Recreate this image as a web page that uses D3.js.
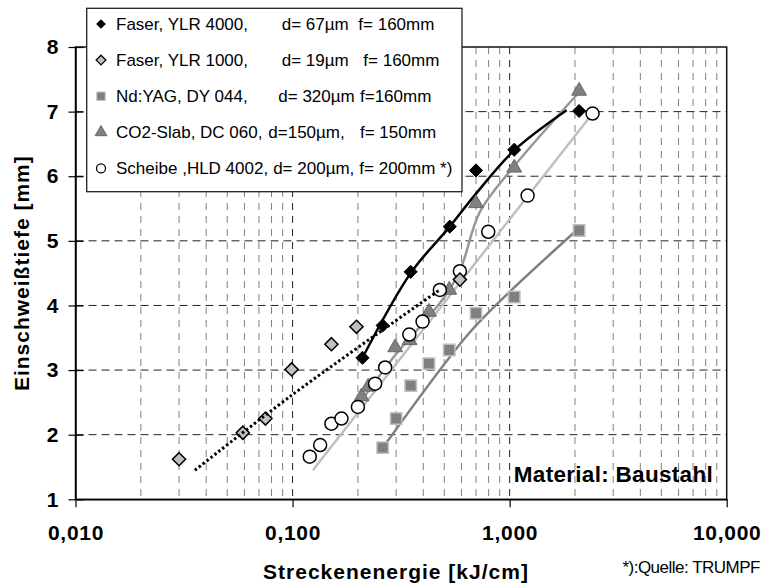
<!DOCTYPE html>
<html>
<head>
<meta charset="utf-8">
<script src="https://cdn.jsdelivr.net/npm/d3@7/dist/d3.min.js"></script>
<style>
body { margin: 0; background: #fff; }
svg { display: block; font-family: Arial, "Liberation Sans", sans-serif; }
</style>
</head>
<body>
<script>
// axis values
var yTicks = [1, 2, 3, 4, 5, 6, 7, 8];
var xTicks = [0.01, 0.1, 1, 10];
var xTickLabels = ["0,010", "0,100", "1,000", "10,000"];

// measured points [Streckenenergie, Einschweisstiefe]
var faser4000 = [[0.21, 3.19], [0.26, 3.69], [0.35, 4.52], [0.53, 5.22], [0.70, 6.09], [1.05, 6.41], [2.09, 7.01]];
var faser1000 = [[0.030, 1.62], [0.059, 2.03], [0.075, 2.25], [0.099, 3.01], [0.151, 3.40], [0.197, 3.67], [0.59, 4.40]];
var ndyag = [[0.26, 1.80], [0.30, 2.25], [0.35, 2.76], [0.425, 3.10], [0.527, 3.31], [0.70, 3.88], [1.05, 4.13], [2.09, 5.16]];
var co2 = [[0.208, 2.59], [0.223, 2.74], [0.297, 3.35], [0.346, 3.46], [0.425, 3.90], [0.527, 4.24], [0.70, 5.58], [1.05, 6.13], [2.09, 7.32]];
var scheibe = [[0.120, 1.66], [0.134, 1.84], [0.151, 2.17], [0.168, 2.25], [0.200, 2.43], [0.240, 2.79], [0.267, 3.04],
    [0.345, 3.55], [0.397, 3.75], [0.477, 4.24], [0.59, 4.53], [0.797, 5.14], [1.21, 5.70], [2.41, 6.97]];

// curves
var faser4000Line = [[0.21, 3.19], [0.35, 4.50], [0.53, 5.22], [0.70, 5.73], [1.05, 6.40], [1.83, 7.02]];
var faser1000Trend = [[0.0355, 1.45], [0.1, 2.62], [0.48, 4.25]];
var ndyagLine = [[0.27, 1.87], [0.65, 3.57], [1.0, 4.21], [2.0, 5.14]];
var co2Line = [[0.20, 2.45], [0.30, 3.25], [0.43, 3.85], [0.53, 4.25], [0.60, 4.60], [0.73, 5.45], [1.04, 6.14], [2.09, 7.30]];
var scheibeTrend = [[0.124, 1.45], [2.41, 6.97]];

var legendNames = ["Faser, YLR 4000,", "Faser, YLR 1000,", "Nd:YAG, DY 044,", "CO2-Slab, DC 060,", "Scheibe ,HLD 4002,"];
var legendD = ["d= 67µm", "d= 19µm", "d= 320µm", "d=150µm,", "d= 200µm,"];
var legendF = ["f= 160mm", "f= 160mm", "f=160mm", "f= 150mm", "f= 200mm *)"];

function init() {
    var w = 763;
    var h = 585;
    var pLeft = 75.5, pRight = 726.7, pTop = 47, pBottom = 499.3;

    var svg = d3.select("body")
        .append("svg")
        .attr("width", w)
        .attr("height", h);

    var xScale = d3.scaleLog()
        .domain([0.01, 10])
        .range([pLeft, pRight]);

    var yScale = d3.scaleLinear()
        .domain([1, 8])
        .range([pBottom, pTop]);

    // vertical grid, minor log steps grey, decades dark
    var minor = [];
    [0.01, 0.1, 1].forEach(function (dec) {
        for (var k = 2; k <= 9; k++) minor.push(dec * k);
    });

    svg.append("g")
        .selectAll("line")
        .data(minor)
        .enter()
        .append("line")
        .attr("x1", function (d) { return xScale(d); })
        .attr("x2", function (d) { return xScale(d); })
        .attr("y1", pTop)
        .attr("y2", pBottom)
        .attr("stroke", "#808080")
        .attr("stroke-width", 1)
        .attr("stroke-dasharray", "7,6");

    svg.append("g")
        .selectAll("line")
        .data([0.1, 1])
        .enter()
        .append("line")
        .attr("x1", function (d) { return xScale(d); })
        .attr("x2", function (d) { return xScale(d); })
        .attr("y1", pTop)
        .attr("y2", pBottom)
        .attr("stroke", "#222")
        .attr("stroke-width", 1)
        .attr("stroke-dasharray", "7,6");

    // horizontal grid
    svg.append("g")
        .selectAll("line")
        .data(yTicks.slice(1, -1))
        .enter()
        .append("line")
        .attr("x1", pLeft)
        .attr("x2", pRight)
        .attr("y1", function (d) { return yScale(d); })
        .attr("y2", function (d) { return yScale(d); })
        .attr("stroke", "#222")
        .attr("stroke-width", 1)
        .attr("stroke-dasharray", "8,5");

    // plot frame
    svg.append("rect")
        .attr("x", pLeft)
        .attr("y", pTop)
        .attr("width", pRight - pLeft)
        .attr("height", pBottom - pTop)
        .attr("fill", "none")
        .attr("stroke", "#111")
        .attr("stroke-width", 1.5);

    // axes
    var yAxis = svg.append("g")
        .attr("transform", "translate(" + pLeft + ",0)")
        .call(d3.axisLeft(yScale).tickValues(yTicks).tickFormat(d3.format("d")).tickSizeInner(7).tickSizeOuter(0).tickPadding(10));
    yAxis.select(".domain").attr("stroke-width", 1.5);
    yAxis.selectAll(".tick line").attr("x2", -7).attr("x1", 8).attr("stroke-width", 1.2);
    yAxis.selectAll(".tick text")
        .attr("font-size", "21px")
        .attr("font-weight", "bold")
        .attr("fill", "#000");

    var xAxis = svg.append("g")
        .attr("transform", "translate(0," + pBottom + ")")
        .call(d3.axisBottom(xScale).tickValues(xTicks).tickFormat(function (d, i) { return xTickLabels[i]; }).tickSizeInner(8).tickSizeOuter(0));
    xAxis.select(".domain").attr("stroke-width", 1.5);
    xAxis.selectAll(".tick line").attr("stroke-width", 1.2);
    xAxis.selectAll(".tick text")
        .attr("y", 540 - pBottom)
        .attr("dy", 0)
        .attr("font-size", "21px")
        .attr("font-weight", "bold")
        .attr("letter-spacing", "0.7px")
        .attr("fill", "#000");

    // axis titles
    svg.append("text")
        .attr("x", 396)
        .attr("y", 579)
        .attr("text-anchor", "middle")
        .attr("font-size", "21px")
        .attr("font-weight", "bold")
        .attr("letter-spacing", "1px")
        .text("Streckenenergie [kJ/cm]");

    svg.append("text")
        .attr("transform", "translate(29," + (pTop + pBottom) / 2 + ") rotate(-90)")
        .attr("text-anchor", "middle")
        .attr("font-size", "21px")
        .attr("font-weight", "bold")
        .attr("letter-spacing", "1px")
        .text("Einschweißtiefe [mm]");

    svg.append("text")
        .attr("x", 713)
        .attr("y", 482)
        .attr("text-anchor", "end")
        .attr("font-size", "22.5px")
        .attr("font-weight", "bold")
        .attr("letter-spacing", "0.3px")
        .text("Material: Baustahl");

    svg.append("text")
        .attr("x", 760)
        .attr("y", 573)
        .attr("text-anchor", "end")
        .attr("font-size", "17px")
        .attr("letter-spacing", "-0.5px")
        .text("*):Quelle: TRUMPF");

    // lines
    var line = d3.line()
        .x(function (d) { return xScale(d[0]); })
        .y(function (d) { return yScale(d[1]); });

    var smooth = d3.line()
        .curve(d3.curveCatmullRom.alpha(0.5))
        .x(function (d) { return xScale(d[0]); })
        .y(function (d) { return yScale(d[1]); });

    svg.append("path").attr("d", smooth(ndyagLine)).attr("fill", "none").attr("stroke", "#808080").attr("stroke-width", 2.5);
    svg.append("path").attr("d", line(scheibeTrend)).attr("fill", "none").attr("stroke", "#c0c0c0").attr("stroke-width", 2.5);
    svg.append("path").attr("d", smooth(co2Line)).attr("fill", "none").attr("stroke", "#969696").attr("stroke-width", 2.5);
    svg.append("path").attr("d", smooth(faser4000Line)).attr("fill", "none").attr("stroke", "#000").attr("stroke-width", 2.5);

    // markers
    var diamond = d3.symbol().type(d3.symbolDiamond2).size(110);
    var square = d3.symbol().type(d3.symbolSquare).size(130);
    var triangle = d3.symbol().type(d3.symbolTriangle).size(95);

    function pos(d) { return "translate(" + xScale(d[0]) + "," + yScale(d[1]) + ")"; }

    svg.append("g").selectAll("path").data(ndyag).enter().append("path")
        .attr("d", square).attr("transform", pos)
        .attr("fill", "#808080").attr("stroke", "#c0c0c0").attr("stroke-width", 1.5);

    svg.append("g").selectAll("path").data(co2).enter().append("path")
        .attr("d", triangle).attr("transform", pos)
        .attr("fill", "#808080").attr("stroke", "#666").attr("stroke-width", 1);

    svg.append("g").selectAll("circle").data(scheibe).enter().append("circle")
        .attr("cx", function (d) { return xScale(d[0]); })
        .attr("cy", function (d) { return yScale(d[1]); })
        .attr("r", 6.5)
        .attr("fill", "#fff").attr("stroke", "#000").attr("stroke-width", 1.5);

    svg.append("g").selectAll("path").data(faser1000).enter().append("path")
        .attr("d", diamond).attr("transform", pos)
        .attr("fill", "#c0c0c0").attr("stroke", "#000").attr("stroke-width", 1.5);

    svg.append("g").selectAll("path").data(faser4000).enter().append("path")
        .attr("d", diamond).attr("transform", pos)
        .attr("fill", "#000").attr("stroke", "#000").attr("stroke-width", 1);

    // dotted trend on top
    svg.append("path").attr("d", smooth(faser1000Trend)).attr("fill", "none")
        .attr("stroke", "#000").attr("stroke-width", 3).attr("stroke-dasharray", "2.5,2.5");

    // legend
    var lg = svg.append("g");
    lg.append("rect")
        .attr("x", 86.7)
        .attr("y", 8.3)
        .attr("width", 462 - 86.7)
        .attr("height", 191.7 - 8.3)
        .attr("fill", "#fff")
        .attr("stroke", "#222")
        .attr("stroke-width", 1.3);

    var rows = legendNames.map(function (n, i) { return 24 + i * 36.1; });
    var lx = 101;
    lg.append("path").attr("d", d3.symbol().type(d3.symbolDiamond2).size(60)()).attr("transform", "translate(" + lx + "," + rows[0] + ")").attr("fill", "#000");
    lg.append("path").attr("d", d3.symbol().type(d3.symbolDiamond2).size(60)()).attr("transform", "translate(" + lx + "," + rows[1] + ")").attr("fill", "#c0c0c0").attr("stroke", "#000").attr("stroke-width", 1.3);
    lg.append("path").attr("d", d3.symbol().type(d3.symbolSquare).size(70)()).attr("transform", "translate(" + lx + "," + rows[2] + ")").attr("fill", "#808080").attr("stroke", "#c0c0c0");
    lg.append("path").attr("d", d3.symbol().type(d3.symbolTriangle).size(60)()).attr("transform", "translate(" + lx + "," + rows[3] + ")").attr("fill", "#808080").attr("stroke", "#666");
    lg.append("circle").attr("cx", lx).attr("cy", rows[4]).attr("r", 4.5).attr("fill", "#fff").attr("stroke", "#000").attr("stroke-width", 1.3);

    // name, d and f parts; each part starts after the previous one
    var dCol = [281.7, 281.7, 278.3, 268.3, 232.7];
    var fCol = [358.3, 363.3, 360, 360, 358.3];
    legendNames.forEach(function (n, i) {
        var y = rows[i] + 6;
        var t1 = lg.append("text").attr("x", 116).attr("y", y).attr("font-size", "17px").text(n);
        var dx = Math.max(dCol[i], 116 + t1.node().getComputedTextLength() + 5);
        var t2 = lg.append("text").attr("x", dx).attr("y", y).attr("font-size", "17px").text(legendD[i]);
        var fx = Math.max(fCol[i], dx + t2.node().getComputedTextLength() + 5);
        lg.append("text").attr("x", fx).attr("y", y).attr("font-size", "17px").text(legendF[i]);
    });
}

window.onload = init;
</script>
</body>
</html>
